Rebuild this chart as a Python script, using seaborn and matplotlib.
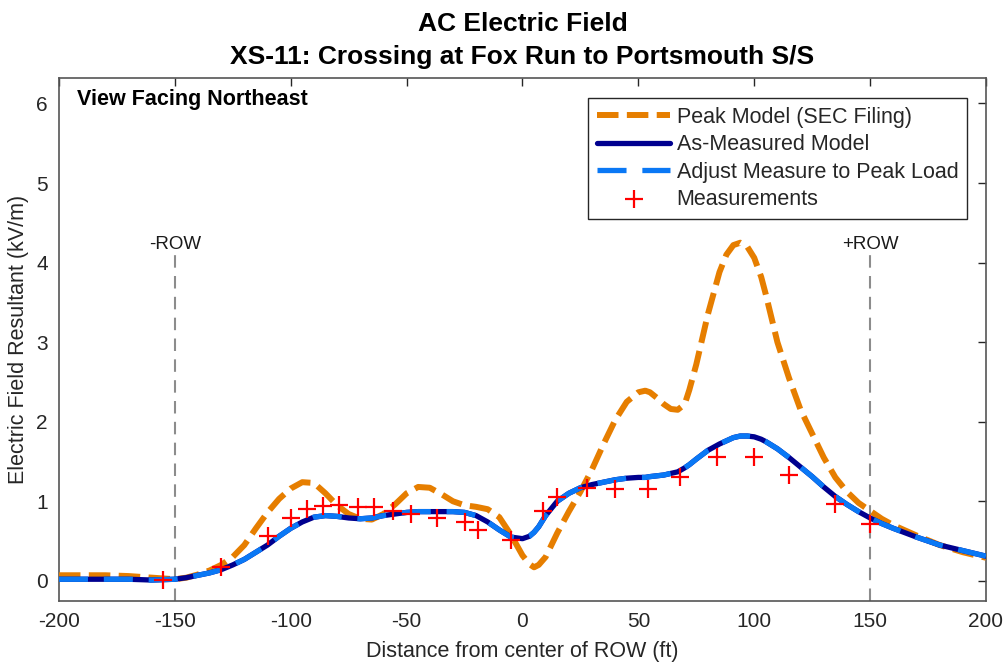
import numpy as np
import pandas as pd
import matplotlib
matplotlib.use("Agg")
import matplotlib.pyplot as plt
import seaborn as sns

# ---------------- data ----------------
x_model = [-200, -190, -180, -170, -160, -150, -145, -140, -135, -130, -125, -120, -115, -110,
           -105, -100, -95, -90, -85, -80, -75, -70, -65, -60, -55, -50, -45, -40, -35, -30,
           -25, -20, -15, -10, -5, 0, 3, 5, 7, 10, 15, 20, 25, 30, 35, 40, 45, 50, 53, 55, 58,
           61, 64, 67, 70, 72, 75, 80, 85, 88, 91, 94, 97, 100, 103, 105, 110, 115, 120, 125,
           130, 135, 140, 145, 150, 155, 160, 170, 180, 190, 200]

peak_model = [0.07, 0.07, 0.07, 0.06, 0.04, 0.02, 0.04, 0.08, 0.13, 0.20, 0.30, 0.45, 0.66, 0.86,
              1.03, 1.16, 1.24, 1.23, 1.10, 0.95, 0.84, 0.78, 0.77, 0.84, 0.96, 1.10, 1.18, 1.17,
              1.09, 1.00, 0.95, 0.93, 0.90, 0.80, 0.58, 0.32, 0.21, 0.17, 0.20, 0.30, 0.60, 0.87,
              1.12, 1.40, 1.72, 2.02, 2.25, 2.37, 2.39, 2.37, 2.30, 2.22, 2.16, 2.15, 2.22, 2.40,
              2.72, 3.35, 3.88, 4.10, 4.22, 4.25, 4.20, 4.06, 3.82, 3.60, 3.00, 2.55, 2.15, 1.85,
              1.55, 1.30, 1.12, 0.98, 0.88, 0.78, 0.70, 0.57, 0.45, 0.36, 0.29]

as_measured = [0.02, 0.02, 0.02, 0.02, 0.01, 0.02, 0.04, 0.07, 0.10, 0.14, 0.20, 0.27, 0.36, 0.45,
               0.56, 0.66, 0.74, 0.80, 0.82, 0.81, 0.79, 0.78, 0.79, 0.82, 0.84, 0.86, 0.87, 0.87,
               0.87, 0.87, 0.86, 0.82, 0.74, 0.64, 0.55, 0.53, 0.56, 0.61, 0.68, 0.82, 1.00, 1.10,
               1.17, 1.21, 1.24, 1.27, 1.29, 1.30, 1.30, 1.31, 1.32, 1.33, 1.35, 1.37, 1.42, 1.46,
               1.53, 1.64, 1.72, 1.76, 1.80, 1.82, 1.82, 1.81, 1.78, 1.75, 1.66, 1.55, 1.43, 1.31,
               1.18, 1.06, 0.96, 0.87, 0.79, 0.72, 0.66, 0.55, 0.45, 0.38, 0.31]

adjusted_peak = as_measured

x_meas = [-155, -130, -110, -100, -93, -86, -79, -71, -64, -56, -48, -37, -25, -19, -5,
          9, 15, 28, 40, 54, 68, 84, 100, 115, 135, 150]
y_meas = [0.01, 0.18, 0.56, 0.79, 0.90, 0.94, 0.95, 0.93, 0.93, 0.88, 0.84, 0.79, 0.74, 0.64, 0.51,
          0.88, 1.05, 1.17, 1.15, 1.15, 1.31, 1.56, 1.56, 1.33, 0.97, 0.71]

row_edges = [-150, 150]
row_labels = ["-ROW", "+ROW"]
x_ticks = [-200, -150, -100, -50, 0, 50, 100, 150, 200]
y_ticks = [0, 1, 2, 3, 4, 5, 6]

# ---------------- style ----------------
sns.set_theme(style="white")
plt.rcParams["font.family"] = ["Liberation Sans", "DejaVu Sans"]
plt.rcParams["axes.unicode_minus"] = False

fig = plt.figure(figsize=(10.06, 6.64), dpi=100)
ax = fig.add_axes([0.0586, 0.0953, 0.9215, 0.7872])

df_model = pd.DataFrame({"x": x_model, "peak": peak_model, "meas": as_measured, "adj": adjusted_peak})
df_pts = pd.DataFrame({"x": x_meas, "y": y_meas})

for xe, lab in zip(row_edges, row_labels):
    ax.plot([xe, xe], [-0.25, 4.1], color="#8c8c8c", lw=1.5, dashes=(6, 4), zorder=1)
    ax.text(xe, 4.23, lab, ha="center", va="center", fontsize=13.5, color="#1a1a1a")

sns.lineplot(data=df_model, x="x", y="peak", ax=ax, color="#E67E00", lw=4.3,
             linestyle=(0, (3.6, 1.4)), label="Peak Model (SEC Filing)", zorder=3)
sns.lineplot(data=df_model, x="x", y="meas", ax=ax, color="#00008F", lw=3.8,
             label="As-Measured Model", zorder=4)
sns.lineplot(data=df_model, x="x", y="adj", ax=ax, color="#0A78F5", lw=3.8,
             linestyle=(0, (5.5, 3.0)), label="Adjust Measure to Peak Load", zorder=5)
sns.scatterplot(data=df_pts, x="x", y="y", ax=ax, marker="+", s=170, color="#FF0000",
                linewidth=1.6, label="Measurements", zorder=6)

ax.set_xlim(-200, 200)
ax.set_ylim(-0.25, 6.32)
ax.set_xticks(x_ticks)
ax.set_yticks(y_ticks)
ax.tick_params(axis="both", which="both", direction="in", length=6, width=1,
               colors="#262626", labelsize=15, top=True, right=True,
               labelcolor="#262626", pad=8)
for sp in ax.spines.values():
    sp.set_color("#555555")
    sp.set_linewidth(1.2)

ax.set_xlabel("Distance from center of ROW (ft)", fontsize=15.5, color="#262626", labelpad=7)
ax.set_ylabel("Electric Field Resultant (kV/m)", fontsize=15.5, color="#262626", labelpad=5)
ax.set_title("AC Electric Field\nXS-11: Crossing at Fox Run to Portsmouth S/S",
             fontsize=19, fontweight="bold", color="black", pad=10, linespacing=1.5)

ax.text(-192, 6.05, "View Facing Northeast", fontsize=15.5, fontweight="bold",
        ha="left", va="center", color="black")

leg = ax.legend(loc="upper right", bbox_to_anchor=(0.9795, 0.9616), fontsize=15.5,
                frameon=True, fancybox=False, framealpha=1, edgecolor="#262626",
                handlelength=3.4, handletextpad=0.3, borderpad=0.4, labelspacing=0.3,
                borderaxespad=0)
leg.get_frame().set_linewidth(1.0)

fig.savefig("out.png", dpi=100)
